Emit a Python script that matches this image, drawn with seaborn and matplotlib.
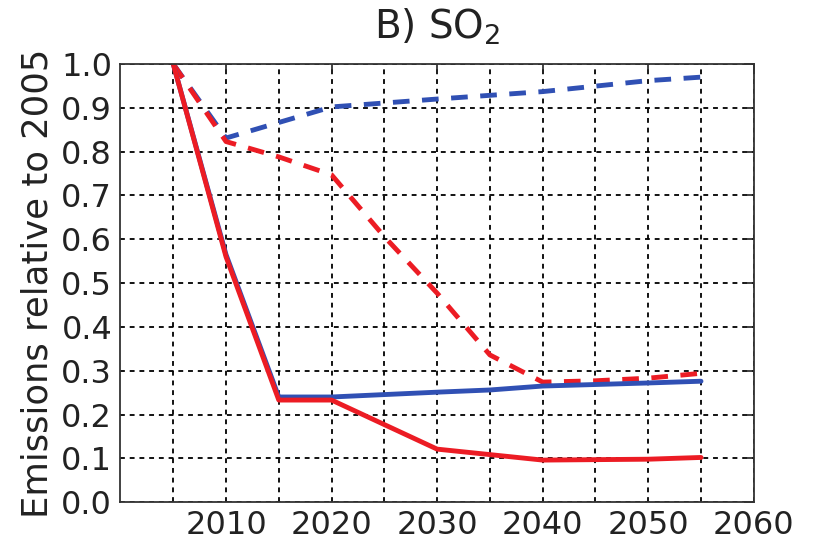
import numpy as np
import pandas as pd
import matplotlib
matplotlib.use("Agg")
import matplotlib.pyplot as plt
import seaborn as sns
from matplotlib.ticker import FixedLocator

# SO2 emissions relative to 2005, four scenarios
years_blue_dashed = [2005, 2010, 2020, 2030, 2040, 2050, 2055]
blue_dashed = [1.0, 0.831, 0.902, 0.920, 0.937, 0.962, 0.970]

years_red_dashed = [2005, 2010, 2015, 2020, 2025, 2030, 2035, 2040, 2045, 2050, 2055]
red_dashed = [1.0, 0.823, 0.788, 0.747, 0.606, 0.477, 0.336, 0.274, 0.277, 0.283, 0.294]

years_blue_solid = [2005, 2010, 2015, 2020, 2030, 2035, 2040, 2050, 2055]
blue_solid = [1.0, 0.565, 0.240, 0.240, 0.251, 0.256, 0.265, 0.272, 0.276]

years_red_solid = [2005, 2010, 2015, 2020, 2030, 2040, 2050, 2055]
red_solid = [1.0, 0.560, 0.233, 0.233, 0.121, 0.096, 0.098, 0.102]

x_major = [2010, 2020, 2030, 2040, 2050, 2060]
x_minor = [2005, 2015, 2025, 2035, 2045, 2055]
y_ticks = [round(0.1 * i, 1) for i in range(11)]

frames = [
    pd.DataFrame({"year": years_blue_dashed, "value": blue_dashed, "colour": "blue", "kind": "dashed"}),
    pd.DataFrame({"year": years_red_dashed, "value": red_dashed, "colour": "red", "kind": "dashed"}),
    pd.DataFrame({"year": years_blue_solid, "value": blue_solid, "colour": "blue", "kind": "solid"}),
    pd.DataFrame({"year": years_red_solid, "value": red_solid, "colour": "red", "kind": "solid"}),
]

sns.set_style("white")
plt.rcParams["font.family"] = ["DejaVu Sans"]
plt.rcParams["lines.scale_dashes"] = False
text_col = "#222222"

fig = plt.figure(figsize=(8.14, 5.47), dpi=100)
ax = fig.add_axes([0.148, 0.082, 0.778, 0.801])

palette = {"blue": "#3050b4", "red": "#ec1c24"}
dash_map = {"dashed": (12, 9), "solid": ""}

for df in frames:
    sns.lineplot(data=df, x="year", y="value", hue="colour", style="kind",
                 palette=palette, dashes=dash_map, linewidth=3.5,
                 legend=False, ax=ax, estimator=None, sort=False)

ax.set_xlim(2000, 2060)
ax.set_ylim(0.0, 1.0)
ax.xaxis.set_major_locator(FixedLocator(x_major))
ax.xaxis.set_minor_locator(FixedLocator(x_minor))
ax.set_xticklabels([str(v) for v in x_major])
ax.set_yticks(y_ticks)
ax.set_yticklabels([f"{v:.1f}" for v in y_ticks])

ax.grid(True, which="both", axis="x", color="black", linestyle=(0, (3.5, 3.5)), linewidth=1.3)
ax.grid(True, which="major", axis="y", color="black", linestyle=(0, (3.5, 3.5)), linewidth=1.3)
ax.set_axisbelow(True)

ax.tick_params(axis="both", which="major", direction="in", length=7, width=1.2,
               labelsize=23, colors=text_col, top=True, right=True, pad=6)
ax.tick_params(axis="both", which="minor", length=0)
for sp in ax.spines.values():
    sp.set_color("#333333")
    sp.set_linewidth(1.3)

ax.set_xlabel("")
ax.set_ylabel("Emissions relative to 2005", fontsize=25.5, color=text_col, labelpad=5)
ax.set_title("B) SO$_2$", fontsize=28, color=text_col, pad=18)

fig.savefig("out.png", dpi=100)
